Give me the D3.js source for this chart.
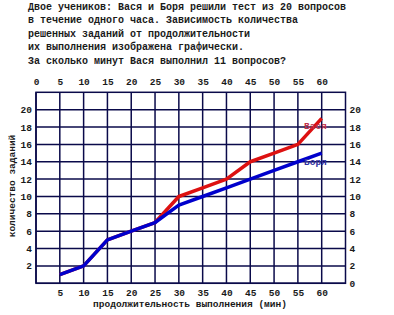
<!DOCTYPE html>
<html><head><meta charset="utf-8">
<script src="https://cdn.jsdelivr.net/npm/d3@7"></script>
<style>body{margin:0;background:#fff}svg{display:block}text{font-family:"Liberation Mono","Courier New",monospace;}</style>
</head><body>
<script>
const titleLines = [
  "Двое учеников: Вася и Боря решили тест из 20 вопросов",
  "в течение одного часа. Зависимость количества",
  "решенных заданий от продолжительности",
  "их выполнения изображена графически.",
  "За сколько минут Вася выполнил 11 вопросов?"
];
const minutes = [5,10,15,20,25,30,35,40,45,50,55,60];
const vasya = [1,2,5,6,7,10,11,12,14,15,16,19];
const borya = [1,2,5,6,7,9,10,11,12,13,14,15];
const topTicks = [0,5,10,15,20,25,30,35,40,45,50,55,60];
const bottomTicks = [5,10,15,20,25,30,35,40,45,50,55,60];
const leftTicks = [2,4,6,8,10,12,14,16,18,20];
const rightTicks = [0,2,4,6,8,10,12,14,16,18,20];
const xLabel = "продолжительность выполнения (мин)";
const yLabel = "количество заданий";

const W=394,H=315;
const svg=d3.select("body").append("svg").attr("width",W).attr("height",H);
const x=d3.scaleLinear().domain([0,65]).range([36,345.5]);
const y=d3.scaleLinear().domain([0,22]).range([283.3,92.3]);
const grid="#0a0a4a";
const txt="#1a1a1a";

svg.append("g").selectAll("text").data(titleLines).join("text")
  .attr("x",28).attr("y",(d,i)=>9.5+i*13.5)
  .attr("font-size",10).attr("font-weight","bold").attr("fill",txt).text(d=>d);

// grid
const g=svg.append("g");
g.selectAll("line.v").data(d3.range(0,65,5)).join("line")
  .attr("x1",d=>x(d)).attr("x2",d=>x(d)).attr("y1",y(22)).attr("y2",y(0))
  .attr("stroke",grid).attr("stroke-width",1.5);
g.selectAll("line.h").data(d3.range(0,22,2)).join("line")
  .attr("y1",d=>y(d)).attr("y2",d=>y(d)).attr("x1",x(0)).attr("x2",x(65))
  .attr("stroke",grid).attr("stroke-width",1.5);
g.append("rect").attr("x",x(0)).attr("y",y(22)).attr("width",x(65)-x(0)).attr("height",y(0)-y(22))
  .attr("fill","none").attr("stroke",grid).attr("stroke-width",1.5);

const axT=d3.axisTop(x).tickValues(topTicks).tickSize(0).tickPadding(7);
const axB=d3.axisBottom(x).tickValues(bottomTicks).tickSize(0).tickPadding(6);
const axL=d3.axisLeft(y).tickValues(leftTicks).tickSize(0).tickPadding(4);
const axR=d3.axisRight(y).tickValues(rightTicks).tickSize(0).tickPadding(4);
function style(sel){sel.select(".domain").remove();sel.selectAll("text").attr("font-family","Liberation Mono, monospace").attr("font-size",9.5).attr("font-weight","bold").attr("fill",txt);}
svg.append("g").attr("transform",`translate(0,${y(22)})`).call(axT).call(style);
const gb=svg.append("g").attr("transform",`translate(0,${y(0)})`).call(axB).call(style);
gb.selectAll("text").attr("dy",null).attr("y",13);
svg.append("g").attr("transform",`translate(${x(0)},0)`).call(axL).call(style);
svg.append("g").attr("transform",`translate(${x(65)},0)`).call(axR).call(style);

const line=d3.line().x((d,i)=>x(minutes[i])).y(d=>y(d)).curve(d3.curveLinear);
svg.append("path").attr("d",line(vasya)).attr("fill","none").attr("stroke","#dd1111").attr("stroke-width",3.5).attr("stroke-linejoin","round");
svg.append("path").attr("d",line(borya)).attr("fill","none").attr("stroke","#0000cc").attr("stroke-width",3.5).attr("stroke-linejoin","round");

svg.append("text").attr("x",304).attr("y",129).attr("font-size",9.5).attr("font-weight","bold").attr("fill","#c0304a").text("Вася");
svg.append("text").attr("x",304).attr("y",165).attr("font-size",9.5).attr("font-weight","bold").attr("fill","#3030a0").text("Боря");

svg.append("text").attr("x",190).attr("y",307).attr("text-anchor","middle").attr("font-size",9.5).attr("font-weight","bold").attr("fill",txt).text(xLabel);
svg.append("text").attr("transform","translate(15,186) rotate(-90)").attr("text-anchor","middle").attr("font-size",9.5).attr("font-weight","bold").attr("fill",txt).text(yLabel);
</script>
</body></html>
